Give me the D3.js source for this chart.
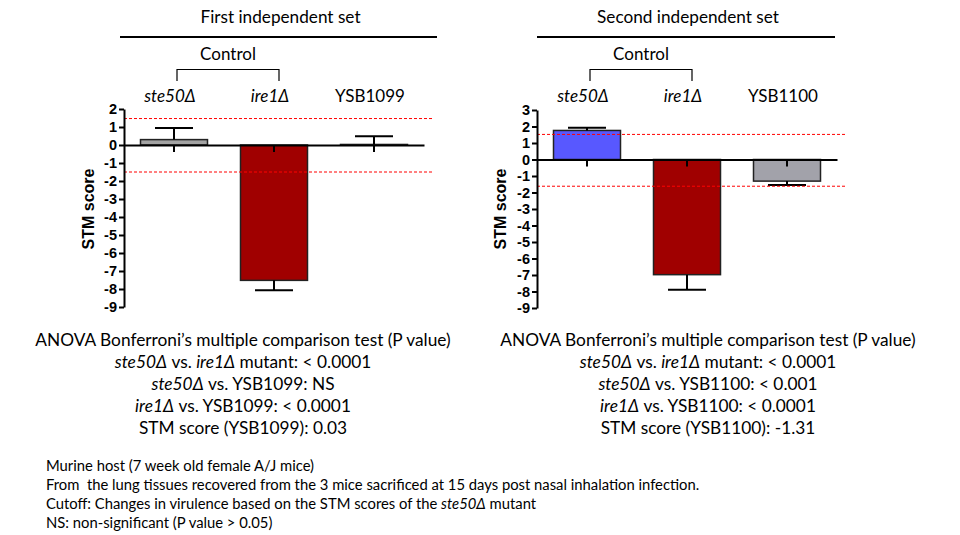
<!DOCTYPE html>
<html>
<head>
<meta charset="utf-8">
<script src="https://cdn.jsdelivr.net/npm/d3@7"></script>
<style>
  body { margin: 0; background: #fff; }
  text { font-family: Lato, "Open Sans", sans-serif; fill: #000; }
  .axis text { font-family: "Liberation Sans", Arial, sans-serif; font-weight: bold; font-size: 14.5px; }
  .axis path, .axis line { stroke: #000; stroke-width: 2; }
</style>
</head>
<body>
<div id="chart"></div>
<script>
// First independent set
var categories1 = ["ste50Δ", "ire1Δ", "YSB1099"];
var italic1 = [true, true, false];
var means1 = [0.30, -7.52, 0.03];
var errors1 = [0.65, 0.55, 0.46];
var colors1 = ["#a3a3a3", "#a00000", "#a3a3a3"];
var cutoffs1 = [1.47, -1.50];
var yTicks1 = [2, 1, 0, -1, -2, -3, -4, -5, -6, -7, -8, -9];

// Second independent set
var categories2 = ["ste50Δ", "ire1Δ", "YSB1100"];
var italic2 = [true, true, false];
var means2 = [1.76, -6.98, -1.31];
var errors2 = [0.16, 0.92, 0.24];
var colors2 = ["#5858ff", "#a00000", "#a2a2aa"];
var cutoffs2 = [1.52, -1.62];
var yTicks2 = [3, 2, 1, 0, -1, -2, -3, -4, -5, -6, -7, -8, -9];

// Text blocks (segments: [text, italic])
var stats1 = [
  [["ANOVA Bonferroni’s multiple comparison test (P value)", false]],
  [["ste50Δ", true], [" vs. ", false], ["ire1Δ", true], [" mutant: < 0.0001", false]],
  [["ste50Δ", true], [" vs. YSB1099: NS", false]],
  [["ire1Δ", true], [" vs. YSB1099: < 0.0001", false]],
  [["STM score (YSB1099): 0.03", false]]
];
var stats2 = [
  [["ANOVA Bonferroni’s multiple comparison test (P value)", false]],
  [["ste50Δ", true], [" vs. ", false], ["ire1Δ", true], [" mutant: < 0.0001", false]],
  [["ste50Δ", true], [" vs. YSB1100: < 0.001", false]],
  [["ire1Δ", true], [" vs. YSB1100: < 0.0001", false]],
  [["STM score (YSB1100): -1.31", false]]
];
var footnotes = [
  [["Murine host (7 week old female A/J mice)", false]],
  [["From  the lung tissues recovered from the 3 mice sacrificed at 15 days post nasal inhalation infection.", false]],
  [["Cutoff: Changes in virulence based on the STM scores of the ", false], ["ste50Δ", true], [" mutant", false]],
  [["NS: non-significant (P value > 0.05)", false]]
];

var w = 960;
var h = 535;

var svg = d3
  .select("#chart")
  .append("svg")
  .attr("width", w)
  .attr("height", h);

function richText(g, lines, x, y0, lineH, size, anchor) {
  lines.forEach(function (segs, i) {
    var t = g
      .append("text")
      .attr("x", x)
      .attr("y", y0 + i * lineH)
      .attr("text-anchor", anchor)
      .style("font-size", size + "px")
      .style("white-space", "pre");
    segs.forEach(function (s) {
      t.append("tspan")
        .style("font-style", s[1] ? "italic" : "normal")
        .text(s[0]);
    });
  });
}

function drawPanel(opt) {
  var g = svg.append("g");

  var xScale = d3
    .scaleBand()
    .domain(opt.categories)
    .range([opt.x0, opt.x1])
    .paddingInner(0.33)
    .paddingOuter(0.165);

  var yScale = d3
    .scaleLinear()
    .domain([d3.min(opt.ticks), d3.max(opt.ticks)])
    .range([opt.yBottom, opt.yTop]);

  var mid = function (d) {
    return xScale(d) + xScale.bandwidth() / 2;
  };

  // Title and rule
  g.append("text")
    .attr("x", (opt.ruleX[0] + opt.ruleX[1]) / 2 + 2)
    .attr("y", 23)
    .attr("text-anchor", "middle")
    .style("font-size", "17.2px")
    .text(opt.title);

  g.append("line")
    .attr("x1", opt.ruleX[0])
    .attr("x2", opt.ruleX[1])
    .attr("y1", 37)
    .attr("y2", 37)
    .attr("stroke", "#000")
    .attr("stroke-width", 2);

  // Control bracket
  var bx1 = mid(opt.categories[0]) + 3;
  var bx2 = mid(opt.categories[1]) + 5;
  g.append("path")
    .attr("d", "M" + bx1 + ",81V69.5H" + bx2 + "V81")
    .attr("fill", "none")
    .attr("stroke", "#000")
    .attr("stroke-width", 1.2);

  g.append("text")
    .attr("x", (bx1 + bx2) / 2)
    .attr("y", 60)
    .attr("text-anchor", "middle")
    .style("font-size", "17px")
    .text("Control");

  // Category labels
  g.selectAll(".cat")
    .data(opt.categories)
    .enter()
    .append("text")
    .attr("class", "cat")
    .attr("x", function (d) {
      return mid(d) - 4;
    })
    .attr("y", 102)
    .attr("text-anchor", "middle")
    .style("font-size", "17px")
    .style("font-style", function (d, i) {
      return opt.italic[i] ? "italic" : "normal";
    })
    .text(function (d) {
      return d;
    });

  // Bars
  g.selectAll(".bar")
    .data(opt.categories)
    .enter()
    .append("rect")
    .attr("class", "bar")
    .attr("x", function (d) {
      return xScale(d);
    })
    .attr("width", xScale.bandwidth())
    .attr("y", function (d, i) {
      return yScale(Math.max(0, opt.means[i]));
    })
    .attr("height", function (d, i) {
      return Math.abs(yScale(opt.means[i]) - yScale(0));
    })
    .attr("fill", function (d, i) {
      return opt.colors[i];
    })
    .attr("stroke", "#222")
    .attr("stroke-width", 1.5);

  // Error bars (outward only)
  var capHalf = 19;
  opt.categories.forEach(function (c, i) {
    var m = opt.means[i];
    var end = m >= 0 ? m + opt.errors[i] : m - opt.errors[i];
    var cx = mid(c);
    g.append("line")
      .attr("x1", cx)
      .attr("x2", cx)
      .attr("y1", yScale(m))
      .attr("y2", yScale(end))
      .attr("stroke", "#000")
      .attr("stroke-width", 2);
    g.append("line")
      .attr("x1", cx - capHalf)
      .attr("x2", cx + capHalf)
      .attr("y1", yScale(end))
      .attr("y2", yScale(end))
      .attr("stroke", "#000")
      .attr("stroke-width", 2);
  });

  // Cutoff lines
  g.selectAll(".cut")
    .data(opt.cutoffs)
    .enter()
    .append("line")
    .attr("class", "cut")
    .attr("x1", opt.x0)
    .attr("x2", opt.x1 + 8)
    .attr("y1", function (d) {
      return yScale(d);
    })
    .attr("y2", function (d) {
      return yScale(d);
    })
    .attr("stroke", "#ff0000")
    .attr("stroke-width", 1)
    .attr("stroke-dasharray", "3,2");

  // Zero axis with category ticks
  g.append("g")
    .attr("class", "axis")
    .attr("transform", "translate(0," + yScale(0) + ")")
    .call(
      d3.axisBottom(xScale).tickSize(7).tickSizeOuter(0).tickFormat("")
    );

  // Y axis
  g.append("g")
    .attr("class", "axis")
    .attr("transform", "translate(" + opt.x0 + ",0)")
    .call(
      d3
        .axisLeft(yScale)
        .tickValues(opt.ticks)
        .tickSize(5)
        .tickSizeOuter(0)
        .tickPadding(2)
        .tickFormat(function (d) {
          return String(d);
        })
    );

  g.append("text")
    .attr("transform", "translate(" + opt.labelX + ",209) rotate(-90)")
    .attr("text-anchor", "middle")
    .style("font-family", "'Liberation Sans', Arial, sans-serif")
    .style("font-weight", "bold")
    .style("font-size", "16px")
    .text("STM score");

  // Stats text
  richText(g, opt.stats, opt.textX, 346, 22, 17.3, "middle");
}

drawPanel({
  title: "First independent set",
  categories: categories1,
  italic: italic1,
  means: means1,
  errors: errors1,
  colors: colors1,
  cutoffs: cutoffs1,
  ticks: yTicks1,
  stats: stats1,
  x0: 124,
  x1: 424,
  ruleX: [120, 437],
  yTop: 109,
  yBottom: 307,
  labelX: 94,
  textX: 243
});

drawPanel({
  title: "Second independent set",
  categories: categories2,
  italic: italic2,
  means: means2,
  errors: errors2,
  colors: colors2,
  cutoffs: cutoffs2,
  ticks: yTicks2,
  stats: stats2,
  x0: 537,
  x1: 837,
  ruleX: [537, 835],
  yTop: 110,
  yBottom: 308,
  labelX: 506,
  textX: 708
});

// Footnotes
richText(svg.append("g"), footnotes, 46, 471, 19, 14.8, "start");
</script>
</body>
</html>
